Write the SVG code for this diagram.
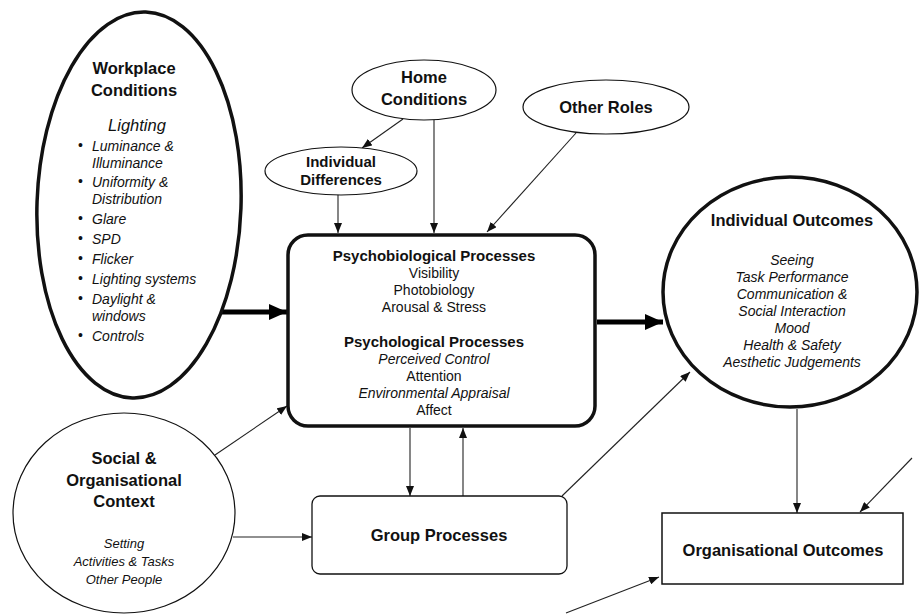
<svg xmlns="http://www.w3.org/2000/svg" width="919" height="614" viewBox="0 0 919 614">
<defs>
<style>
text{font-family:"Liberation Sans",Arial,sans-serif;fill:#111;}
.b{font-weight:bold;}
.i{font-style:italic;}
.c{text-anchor:middle;}
.thin{fill:none;stroke:#222;stroke-width:1.1;}
.thick{fill:none;stroke:#000;stroke-width:5;}
.shape{fill:#fff;stroke:#111;}
</style>
<marker id="ah" markerUnits="userSpaceOnUse" markerWidth="10" markerHeight="8" refX="10" refY="4" orient="auto">
<path d="M0,0 L10,4 L0,8 z" fill="#111"/>
</marker>
<marker id="ahb" markerUnits="userSpaceOnUse" markerWidth="18" markerHeight="16" refX="18" refY="8" orient="auto">
<path d="M0,0 L18,8 L0,16 z" fill="#000"/>
</marker>
</defs>
<rect width="919" height="614" fill="#fff"/>

<g id="connectors">
<line class="thick" x1="221" y1="312" x2="287" y2="312" marker-end="url(#ahb)"/>
<line class="thick" x1="597" y1="322" x2="663" y2="322" marker-end="url(#ahb)"/>
<line class="thin" x1="403" y1="119" x2="362" y2="148" marker-end="url(#ah)"/>
<line class="thin" x1="338" y1="194" x2="338" y2="233" marker-end="url(#ah)"/>
<line class="thin" x1="434" y1="120" x2="434" y2="233" marker-end="url(#ah)"/>
<line class="thin" x1="576" y1="133" x2="487" y2="232" marker-end="url(#ah)"/>
<line class="thin" x1="215" y1="455" x2="287" y2="406" marker-end="url(#ah)"/>
<line class="thin" x1="233" y1="537" x2="312" y2="537" marker-end="url(#ah)"/>
<line class="thin" x1="410" y1="428" x2="410" y2="496" marker-end="url(#ah)"/>
<line class="thin" x1="463" y1="496" x2="463" y2="428" marker-end="url(#ah)"/>
<line class="thin" x1="562" y1="496" x2="690" y2="372" marker-end="url(#ah)"/>
<line class="thin" x1="797" y1="409" x2="797" y2="513" marker-end="url(#ah)"/>
<line class="thin" x1="912" y1="458" x2="860" y2="512" marker-end="url(#ah)"/>
<line class="thin" x1="566" y1="613" x2="659" y2="577" marker-end="url(#ah)"/>
</g>

<g id="workplace">
<ellipse class="shape" cx="139" cy="205" rx="102" ry="193" stroke-width="3.5" transform="rotate(2 139 205)"/>
<text class="b c" x="134" y="74" font-size="16.5">Workplace</text>
<text class="b c" x="134" y="96" font-size="16.5">Conditions</text>
<text class="i c" x="137" y="131" font-size="16.5">Lighting</text>
<g font-size="14">
<text x="78" y="150">•</text><text class="i" x="92" y="151">Luminance &amp;</text>
<text class="i" x="92" y="168">Illuminance</text>
<text x="78" y="186">•</text><text class="i" x="92" y="187">Uniformity &amp;</text>
<text class="i" x="92" y="204">Distribution</text>
<text x="78" y="223">•</text><text class="i" x="92" y="224">Glare</text>
<text x="78" y="243">•</text><text class="i" x="92" y="244">SPD</text>
<text x="78" y="263">•</text><text class="i" x="92" y="264">Flicker</text>
<text x="78" y="283">•</text><text class="i" x="92" y="284">Lighting systems</text>
<text x="78" y="303">•</text><text class="i" x="92" y="304">Daylight &amp;</text>
<text class="i" x="92" y="321">windows</text>
<text x="78" y="340">•</text><text class="i" x="92" y="341">Controls</text>
</g>
</g>

<g id="home">
<ellipse class="shape" cx="424" cy="90" rx="72" ry="30" stroke-width="1.2"/>
<text class="b c" x="424" y="83" font-size="16.5">Home</text>
<text class="b c" x="424" y="105" font-size="16.5">Conditions</text>
</g>

<g id="individual-differences">
<ellipse class="shape" cx="341" cy="171" rx="76" ry="24" stroke-width="1.2"/>
<text class="b c" x="341" y="167" font-size="15">Individual</text>
<text class="b c" x="341" y="185" font-size="15">Differences</text>
</g>

<g id="other-roles">
<ellipse class="shape" cx="606" cy="107" rx="83" ry="27" stroke-width="1.2"/>
<text class="b c" x="606" y="113" font-size="16.5">Other Roles</text>
</g>

<g id="processes">
<rect class="shape" x="288" y="235" width="307" height="191" rx="20" stroke-width="3.5"/>
<text class="b c" x="434" y="261" font-size="15">Psychobiological Processes</text>
<text class="c" x="434" y="278" font-size="14">Visibility</text>
<text class="c" x="434" y="295" font-size="14">Photobiology</text>
<text class="c" x="434" y="312" font-size="14">Arousal &amp; Stress</text>
<text class="b c" x="434" y="347" font-size="15">Psychological Processes</text>
<text class="i c" x="434" y="364" font-size="14">Perceived Control</text>
<text class="c" x="434" y="381" font-size="14">Attention</text>
<text class="i c" x="434" y="398" font-size="14">Environmental Appraisal</text>
<text class="c" x="434" y="415" font-size="14">Affect</text>
</g>

<g id="individual-outcomes">
<ellipse class="shape" cx="790" cy="292" rx="127" ry="115" stroke-width="3.5"/>
<text class="b c" x="792" y="226" font-size="16.5">Individual Outcomes</text>
<text class="i c" x="792" y="265" font-size="14">Seeing</text>
<text class="i c" x="792" y="282" font-size="14">Task Performance</text>
<text class="i c" x="792" y="299" font-size="14">Communication &amp;</text>
<text class="i c" x="792" y="316" font-size="14">Social Interaction</text>
<text class="i c" x="792" y="333" font-size="14">Mood</text>
<text class="i c" x="792" y="350" font-size="14">Health &amp; Safety</text>
<text class="i c" x="792" y="367" font-size="14">Aesthetic Judgements</text>
</g>

<g id="social">
<ellipse class="shape" cx="124" cy="513" rx="111" ry="100" stroke-width="1.2"/>
<text class="b c" x="124" y="464" font-size="16.5">Social &amp;</text>
<text class="b c" x="124" y="486" font-size="16.5">Organisational</text>
<text class="b c" x="124" y="507" font-size="16.5">Context</text>
<text class="i c" x="124" y="548" font-size="13">Setting</text>
<text class="i c" x="124" y="566" font-size="13">Activities &amp; Tasks</text>
<text class="i c" x="124" y="584" font-size="13">Other People</text>
</g>

<g id="group-processes">
<rect class="shape" x="312" y="496" width="255" height="78" rx="8" stroke-width="1.3"/>
<text class="b c" x="439" y="541" font-size="16.5">Group Processes</text>
</g>

<g id="organisational-outcomes">
<rect class="shape" x="662" y="513" width="241" height="71" stroke-width="1.5"/>
<text class="b c" x="783" y="556" font-size="16.5">Organisational Outcomes</text>
</g>
</svg>
